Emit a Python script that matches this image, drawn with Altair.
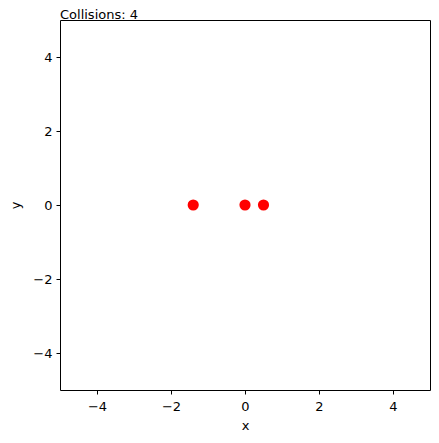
import altair as alt
import pandas as pd

xs = [-1.4, 0.0, 0.5]
ys = [0.0, 0.0, 0.0]
ticks = [-4, -2, 0, 2, 4]
label_text = "Collisions: 4"

df = pd.DataFrame({"x": xs, "y": ys})

lbl = "replace(datum.label, '-', '\u2212')"

points = alt.Chart(df).mark_circle(color="#ff0000", opacity=1, size=125).encode(
    x=alt.X("x:Q", scale=alt.Scale(domain=[-5, 5], nice=False, zero=False),
            axis=alt.Axis(values=ticks, title="x", labelExpr=lbl)),
    y=alt.Y("y:Q", scale=alt.Scale(domain=[-5, 5], nice=False, zero=False),
            axis=alt.Axis(values=ticks, title="y", labelExpr=lbl)),
)

txt = alt.Chart(pd.DataFrame({"t": [label_text]})).mark_text(
    align="left", baseline="alphabetic", fontSize=13, font="DejaVu Sans", color="black"
).encode(x=alt.value(0), y=alt.value(-1.5), text="t:N")

chart = alt.layer(points, txt).properties(
    width=370, height=370,
    autosize=alt.AutoSizeParams(type="none"),
    padding={"left": 52, "top": 12, "right": 1, "bottom": 45},
).configure_view(
    stroke="black", strokeWidth=1
).configure_axis(
    grid=False, domain=False, tickColor="black", tickSize=4, tickWidth=1,
    labelFont="DejaVu Sans", labelFontSize=13, labelColor="black",
    titleFont="DejaVu Sans", titleFontSize=13, titleColor="black", titleFontWeight="normal",
).configure_axisX(labelPadding=6, titlePadding=6).configure_axisY(labelPadding=4, titlePadding=10)

chart.save("out.html", embed_options={"renderer": "svg", "actions": False})
